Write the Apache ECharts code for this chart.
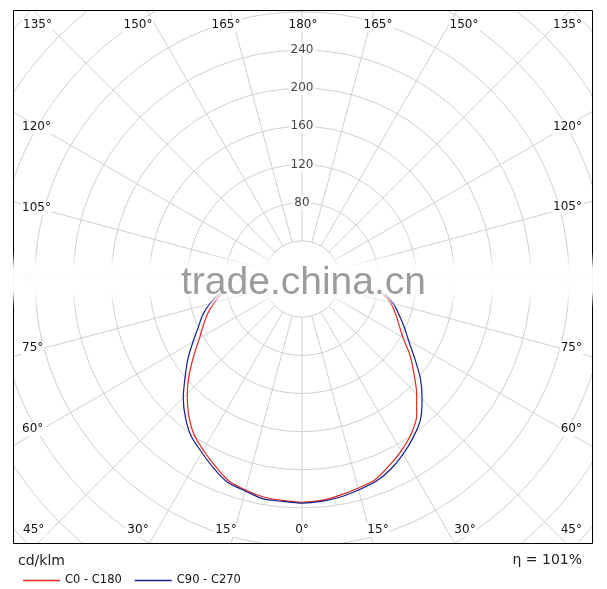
<!DOCTYPE html>
<html><head><meta charset="utf-8">
<script src="https://cdn.jsdelivr.net/npm/echarts@6/dist/echarts.min.js"></script>
<style>html,body{margin:0;padding:0;background:#fff}#c{width:607px;height:589px}</style>
</head><body><div id="c"></div>
<script>
// gamma angle (0 = straight down), degrees
const gammaAngles = [0,5,10,15,20,25,30,35,40,45,50,55,60,65,70,75,80,85,90];
// luminous intensity, cd/klm
const c0Values   = [234,233,232,229,225,216,207,198,185,170,154,138,124,114,105,95,85,74,62];
const c180Values = [233,233,230,227,224,216,208,199,187,170,153,138,122,112,104,96,85,74,62];
const c90Values  = [235,234,234,230,227,219,210,202,190,176,160,146,132,120,111,100,88,76,62];
const c270Values = [235,234,232,229,226,220,212,203,193,178,162,144,129,118,108,99,88,76,62];
const seriesNames = ['C0 - C180','C90 - C270'];
const ringLabels = [80,120,160,200,240];
const angleLabels = ['135°','150°','165°','180°','165°','150°','135°',
  '120°','105°','90°','75°','60°','45°',
  '120°','105°','90°','75°','60°','45°',
  '30°','15°','0°','15°','30°'];
const unitText = 'cd/klm';
const effText = 'η = 101%';
const watermark = 'trade.china.cn';

// layout (pixels)
const angleLabelPos = [[22,25,'left'],[138,25,'center'],[226,25,'center'],[303,25,'center'],[378,25,'center'],[464,25,'center'],[583,25,'right'],
  [21,127,'left'],[21,208,'left'],[21,279,'left'],[21,348,'left'],[21,429,'left'],[22,530,'left'],
  [583,127,'right'],[583,207,'right'],[583,279,'right'],[583,348,'right'],[583,429,'right'],[583,530,'right'],
  [138,530,'center'],[226,530,'center'],[302,530,'center'],[378,530,'center'],[465,530,'center']];
const F = '"DejaVu Sans", Verdana, sans-serif';
const frame = {x1:13, y1:10, x2:592, y2:543};
const cx = 302, cy = 279, pxPerUnit = 0.954, rMin = 40, rMax = 440;

function curve(leftVals, rightVals){
  const d = [];
  for (let i = gammaAngles.length-1; i >= 0; i--) d.push([leftVals[i], 180 + gammaAngles[i]]);
  for (let i = 1; i < gammaAngles.length; i++) d.push([rightVals[i], 180 - gammaAngles[i]]);
  return d;
}

const chart = echarts.init(document.getElementById('c'), null, {renderer:'canvas'});
const gfx = [];
const W = 607, H = 589;
// masks outside the frame
[[0,0,W,frame.y1],[0,frame.y2,W,H-frame.y2],[0,0,frame.x1,H],[frame.x2,0,W-frame.x2,H]].forEach(r=>{
  gfx.push({type:'rect', z:50, silent:true, shape:{x:r[0],y:r[1],width:r[2],height:r[3]}, style:{fill:'#fff'}});
});
gfx.push({type:'rect', z:51, silent:true, shape:{x:frame.x1+0.5,y:frame.y1+0.5,width:frame.x2-frame.x1,height:frame.y2-frame.y1},
  style:{fill:'none', stroke:'#000', lineWidth:1}});
angleLabels.forEach((t,i)=>{
  const p = angleLabelPos[i];
  gfx.push({type:'text', z:55, silent:true, style:{text:t, x:p[0], y:p[1], align:p[2], textAlign:p[2],
    verticalAlign:'middle', textVerticalAlign:'middle', font:'12px '+F, fill:'#111', backgroundColor:'#fff', padding:[1,1]}});
});
gfx.push({type:'text', z:55, silent:true, style:{text:unitText, x:18, y:561, align:'left', textAlign:'left',
  verticalAlign:'middle', textVerticalAlign:'middle', font:'14px '+F, fill:'#222'}});
gfx.push({type:'text', z:55, silent:true, style:{text:effText, x:582, y:560, align:'right', textAlign:'right',
  verticalAlign:'middle', textVerticalAlign:'middle', font:'14px '+F, fill:'#222'}});
// watermark band + text
gfx.push({type:'rect', z:60, silent:true, shape:{x:0,y:252,width:W,height:56},
  style:{fill:new echarts.graphic.LinearGradient(0,0,0,1,[
    {offset:0,color:'rgba(255,255,255,0)'},{offset:0.3,color:'rgba(255,255,255,0.97)'},
    {offset:0.7,color:'rgba(255,255,255,0.97)'},{offset:1,color:'rgba(255,255,255,0)'}])}});
gfx.push({type:'text', z:61, silent:true, style:{text:watermark, x:303.5, y:283, align:'center', textAlign:'center',
  verticalAlign:'middle', textVerticalAlign:'middle', font:'39px "Liberation Sans", Arial, sans-serif', fill:'#9c9c9c'}});

chart.setOption({
  animation:false,
  backgroundColor:'#fff',
  polar:{center:[cx,cy], radius:[rMin*pxPerUnit, rMax*pxPerUnit]},
  angleAxis:{type:'value', min:0, max:360, interval:15, startAngle:90, clockwise:true,
    axisLine:{show:false}, axisTick:{show:false}, axisLabel:{show:false},
    splitLine:{show:true, lineStyle:{color:'#d0d0d0', width:1}}},
  radiusAxis:{type:'value', min:rMin, max:rMax, interval:40,
    axisLine:{show:false}, axisTick:{show:false}, axisLabel:{show:false},
    splitLine:{show:true, lineStyle:{color:'#d0d0d0', width:1}}},
  legend:{z:100, zlevel:0, left:18, top:569.5, icon:'rect', itemWidth:37, itemHeight:1.3, itemGap:13,
    textStyle:{fontFamily:F, fontSize:11.5, color:'#111'}, data:seriesNames},
  series:[
    {type:'scatter', coordinateSystem:'polar', silent:true, z:5, symbolSize:1,
      itemStyle:{color:'rgba(0,0,0,0)'}, data:ringLabels.map(v=>[v,0]),
      label:{show:true, position:'inside', formatter:p=>String(p.value[0]), fontFamily:F, fontSize:12,
        color:'#111', backgroundColor:'#fff', padding:[1,2]}},
    {name:seriesNames[0], type:'line', coordinateSystem:'polar', symbol:'none', smooth:0.25, z:3,
      lineStyle:{color:'#e02a20', width:1.2}, itemStyle:{color:'#e02a20'}, data:curve(c0Values, c180Values)},
    {name:seriesNames[1], type:'line', coordinateSystem:'polar', symbol:'none', smooth:0.25, z:4,
      lineStyle:{color:'#151f8c', width:1.2}, itemStyle:{color:'#151f8c'}, data:curve(c90Values, c270Values)}
  ],
  graphic:{elements:gfx}
});
</script></body></html>
